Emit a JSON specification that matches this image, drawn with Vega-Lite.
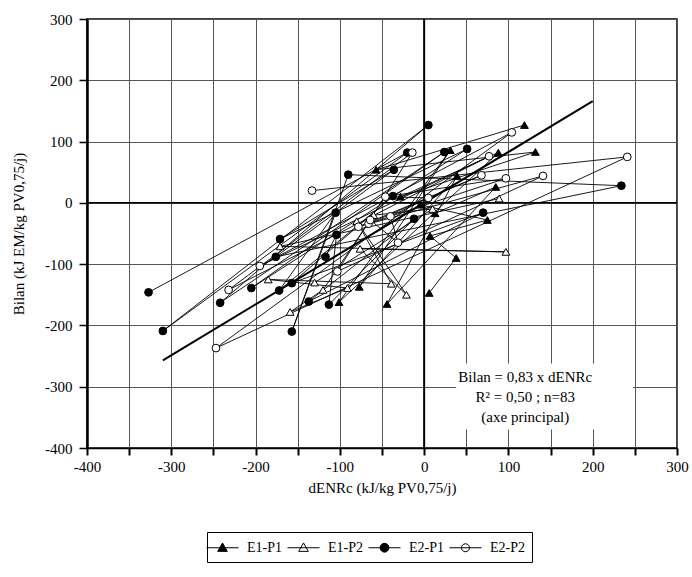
{
  "$schema": "https://vega.github.io/schema/vega-lite/v6.json",
  "width": 590,
  "height": 429,
  "autosize": "none",
  "padding": {"left": 87, "top": 19, "right": 15, "bottom": 129},
  "background": "white",
  "config": {
    "font": "Liberation Serif",
    "view": {"stroke": "black", "strokeWidth": 1.5},
    "axis": {
      "labelFont": "Liberation Serif", "titleFont": "Liberation Serif",
      "labelFontSize": 15, "titleFontSize": 15, "titleFontWeight": "normal",
      "labelColor": "black", "titleColor": "black",
      "gridColor": "#555555", "gridWidth": 1, "gridOpacity": 1,
      "domainColor": "black", "tickColor": "black"
    }
  },
  "resolve": {"scale": {"shape": "independent", "fill": "independent"}},
  "datasets": {
    "pts": [
      {"s": "E1-P1", "i": 1, "x": 119, "y": 127},
      {"s": "E1-P1", "i": 2, "x": -57, "y": 54},
      {"s": "E1-P1", "i": 3, "x": 132, "y": 83},
      {"s": "E1-P1", "i": 4, "x": -28, "y": 10},
      {"s": "E1-P1", "i": 5, "x": 88, "y": 82},
      {"s": "E1-P1", "i": 6, "x": -101, "y": -162},
      {"s": "E1-P1", "i": 7, "x": 31, "y": 86},
      {"s": "E1-P1", "i": 8, "x": -77, "y": -137},
      {"s": "E1-P1", "i": 9, "x": 39, "y": 44},
      {"s": "E1-P1", "i": 10, "x": -44, "y": -165},
      {"s": "E1-P1", "i": 11, "x": 85, "y": 26},
      {"s": "E1-P1", "i": 12, "x": 13, "y": -17},
      {"s": "E1-P1", "i": 13, "x": -5, "y": -3},
      {"s": "E1-P1", "i": 14, "x": 75, "y": -28},
      {"s": "E1-P1", "i": 15, "x": 7, "y": -54},
      {"s": "E1-P1", "i": 16, "x": 38, "y": -90},
      {"s": "E1-P1", "i": 17, "x": 6, "y": -147},
      {"s": "E1-P2", "i": 1, "x": 89, "y": 7},
      {"s": "E1-P2", "i": 2, "x": -171, "y": -71},
      {"s": "E1-P2", "i": 3, "x": 97, "y": -80},
      {"s": "E1-P2", "i": 4, "x": -76, "y": -75},
      {"s": "E1-P2", "i": 5, "x": -21, "y": -150},
      {"s": "E1-P2", "i": 6, "x": -80, "y": -30},
      {"s": "E1-P2", "i": 7, "x": -39, "y": -132},
      {"s": "E1-P2", "i": 8, "x": -185, "y": -125},
      {"s": "E1-P2", "i": 9, "x": -91, "y": -139},
      {"s": "E1-P2", "i": 10, "x": -159, "y": -178},
      {"s": "E1-P2", "i": 11, "x": -120, "y": -142},
      {"s": "E1-P2", "i": 12, "x": -60, "y": -20},
      {"s": "E1-P2", "i": 13, "x": 10, "y": -10},
      {"s": "E1-P2", "i": 14, "x": -130, "y": -130},
      {"s": "E2-P1", "i": 1, "x": -327, "y": -146},
      {"s": "E2-P1", "i": 2, "x": -20, "y": 82},
      {"s": "E2-P1", "i": 3, "x": -310, "y": -209},
      {"s": "E2-P1", "i": 4, "x": 5, "y": 127},
      {"s": "E2-P1", "i": 5, "x": -242, "y": -163},
      {"s": "E2-P1", "i": 6, "x": 24, "y": 83},
      {"s": "E2-P1", "i": 7, "x": -205, "y": -139},
      {"s": "E2-P1", "i": 8, "x": 51, "y": 88},
      {"s": "E2-P1", "i": 9, "x": -171, "y": -59},
      {"s": "E2-P1", "i": 10, "x": -36, "y": 54},
      {"s": "E2-P1", "i": 11, "x": -176, "y": -88},
      {"s": "E2-P1", "i": 12, "x": 234, "y": 28},
      {"s": "E2-P1", "i": 13, "x": -90, "y": 46},
      {"s": "E2-P1", "i": 14, "x": -157, "y": -210},
      {"s": "E2-P1", "i": 15, "x": -105, "y": -16},
      {"s": "E2-P1", "i": 16, "x": -172, "y": -143},
      {"s": "E2-P1", "i": 17, "x": -37, "y": 11},
      {"s": "E2-P1", "i": 18, "x": -157, "y": -131},
      {"s": "E2-P1", "i": 19, "x": 70, "y": -16},
      {"s": "E2-P1", "i": 20, "x": -137, "y": -161},
      {"s": "E2-P1", "i": 21, "x": -12, "y": -26},
      {"s": "E2-P1", "i": 22, "x": -113, "y": -166},
      {"s": "E2-P1", "i": 23, "x": -104, "y": -52},
      {"s": "E2-P1", "i": 24, "x": -117, "y": -88},
      {"s": "E2-P2", "i": 1, "x": -133, "y": 20},
      {"s": "E2-P2", "i": 2, "x": 241, "y": 75},
      {"s": "E2-P2", "i": 3, "x": -247, "y": -237},
      {"s": "E2-P2", "i": 4, "x": 104, "y": 115},
      {"s": "E2-P2", "i": 5, "x": -195, "y": -103},
      {"s": "E2-P2", "i": 6, "x": 77, "y": 76},
      {"s": "E2-P2", "i": 7, "x": -232, "y": -142},
      {"s": "E2-P2", "i": 8, "x": -14, "y": 82},
      {"s": "E2-P2", "i": 9, "x": -103, "y": -112},
      {"s": "E2-P2", "i": 10, "x": 141, "y": 44},
      {"s": "E2-P2", "i": 11, "x": -78, "y": -39},
      {"s": "E2-P2", "i": 12, "x": 68, "y": 45},
      {"s": "E2-P2", "i": 13, "x": -66, "y": -34},
      {"s": "E2-P2", "i": 14, "x": 97, "y": 40},
      {"s": "E2-P2", "i": 15, "x": -46, "y": 10},
      {"s": "E2-P2", "i": 16, "x": 5, "y": 8},
      {"s": "E2-P2", "i": 17, "x": -40, "y": -22},
      {"s": "E2-P2", "i": 18, "x": -31, "y": -65},
      {"s": "E2-P2", "i": 19, "x": -64, "y": -28}
    ],
    "reg": [{"x": -310, "y": -257}, {"x": 200, "y": 166}],
    "box": [{"x": 38, "x2": 248, "y": -262, "y2": -370}],
    "note": [
      {"t": "Bilan = 0,83 x dENRc", "x": 120, "y": -284},
      {"t": "R² = 0,50 ; n=83", "x": 120, "y": -316},
      {"t": "(axe principal)", "x": 120, "y": -349}
    ],
    "zero": [{"v": 0}]
  },
  "layer": [
    {
      "data": {"name": "box"},
      "mark": {"type": "rect", "fill": "white"},
      "encoding": {
        "x": {
          "field": "x", "type": "quantitative",
          "scale": {"domain": [-400, 300], "nice": false, "zero": false},
          "axis": {
            "title": "dENRc (kJ/kg PV0,75/j)",
            "values": [-400, -350, -300, -250, -200, -150, -100, -50, 0, 50, 100, 150, 200, 250, 300],
            "labelExpr": "datum.value % 100 == 0 ? '' + datum.value : ''",
            "labelOverlap": false, "labelFlush": false,
            "tickSize": 7, "tickWidth": 2, "domainWidth": 1.5,
            "labelPadding": 4, "titlePadding": 6, "grid": true
          }
        },
        "x2": {"field": "x2"},
        "y": {
          "field": "y", "type": "quantitative",
          "scale": {"domain": [-400, 300], "nice": false, "zero": false},
          "axis": {
            "title": "Bilan (kJ EM/kg PV0,75/j)",
            "values": [-400, -350, -300, -250, -200, -150, -100, -50, 0, 50, 100, 150, 200, 250, 300],
            "labelExpr": "datum.value % 100 == 0 ? '' + datum.value : ''",
            "labelOverlap": false, "labelFlush": false,
            "tickSize": 8, "tickWidth": 1.5, "domainWidth": 2.5,
            "labelPadding": 7, "titlePadding": 18, "grid": true
          }
        },
        "y2": {"field": "y2"}
      }
    },
    {
      "data": {"name": "zero"},
      "mark": {"type": "rule", "color": "black", "strokeWidth": 2},
      "encoding": {"x": {"field": "v", "type": "quantitative"}}
    },
    {
      "data": {"name": "zero"},
      "mark": {"type": "rule", "color": "black", "strokeWidth": 1.5},
      "encoding": {"y": {"field": "v", "type": "quantitative"}}
    },
    {
      "data": {"name": "pts"},
      "mark": {"type": "line", "color": "black", "strokeWidth": 0.9},
      "encoding": {
        "x": {"field": "x", "type": "quantitative"},
        "y": {"field": "y", "type": "quantitative"},
        "detail": {"field": "s"},
        "order": {"field": "i", "type": "quantitative"}
      }
    },
    {
      "data": {"name": "reg"},
      "mark": {"type": "line", "color": "black", "strokeWidth": 2},
      "encoding": {
        "x": {"field": "x", "type": "quantitative"},
        "y": {"field": "y", "type": "quantitative"}
      }
    },
    {
      "data": {"name": "pts"},
      "mark": {"type": "point", "filled": true, "stroke": "black", "strokeWidth": 1, "opacity": 1, "size": 60},
      "encoding": {
        "x": {"field": "x", "type": "quantitative"},
        "y": {"field": "y", "type": "quantitative"},
        "shape": {
          "field": "s", "type": "nominal",
          "scale": {"domain": ["E1-P1", "E1-P2", "E2-P1", "E2-P2"], "range": ["triangle-up", "triangle-up", "circle", "circle"]},
          "legend": null
        },
        "fill": {
          "field": "s", "type": "nominal",
          "scale": {"domain": ["E1-P1", "E1-P2", "E2-P1", "E2-P2"], "range": ["black", "white", "black", "white"]},
          "legend": null
        }
      }
    },
    {
      "data": {"name": "pts"},
      "transform": [{"filter": "false"}],
      "mark": {"type": "point", "filled": true, "stroke": "black", "strokeWidth": 1, "opacity": 1, "size": 256},
      "encoding": {
        "x": {"field": "x", "type": "quantitative"},
        "y": {"field": "y", "type": "quantitative"},
        "shape": {
          "field": "s", "type": "nominal",
          "scale": {"domain": ["E1-P1", "E1-P2", "E2-P1", "E2-P2"], "range": [
            "M-2,0H2M0,-0.6L0.6,0.45L-0.6,0.45Z",
            "M-2,0H2M0,-0.6L0.6,0.45L-0.6,0.45Z",
            "M-2,0H2M0.55,0A0.55,0.55,0,1,1,-0.55,0A0.55,0.55,0,1,1,0.55,0Z",
            "M-2,0H2M0.5,0A0.5,0.5,0,1,1,-0.5,0A0.5,0.5,0,1,1,0.5,0Z"
          ]},
          "legend": {
            "title": null, "orient": "none", "legendX": 120, "legendY": 513,
            "direction": "horizontal", "strokeColor": "black", "padding": 7,
            "symbolSize": 256, "symbolStrokeWidth": 1,
            "labelFont": "Liberation Serif", "labelFontSize": 14, "labelColor": "black",
            "columnPadding": 3, "labelOffset": 16
          }
        },
        "fill": {
          "field": "s", "type": "nominal",
          "scale": {"domain": ["E1-P1", "E1-P2", "E2-P1", "E2-P2"], "range": ["black", "white", "black", "white"]},
          "legend": {
            "title": null, "orient": "none", "legendX": 120, "legendY": 513,
            "direction": "horizontal", "strokeColor": "black", "padding": 7,
            "symbolSize": 256, "symbolStrokeWidth": 1,
            "labelFont": "Liberation Serif", "labelFontSize": 14, "labelColor": "black",
            "columnPadding": 3, "labelOffset": 16
          }
        }
      }
    },
    {
      "data": {"name": "note"},
      "mark": {"type": "text", "font": "Liberation Serif", "fontSize": 15, "color": "black", "align": "center", "baseline": "middle"},
      "encoding": {
        "x": {"field": "x", "type": "quantitative"},
        "y": {"field": "y", "type": "quantitative"},
        "text": {"field": "t"}
      }
    }
  ]
}
